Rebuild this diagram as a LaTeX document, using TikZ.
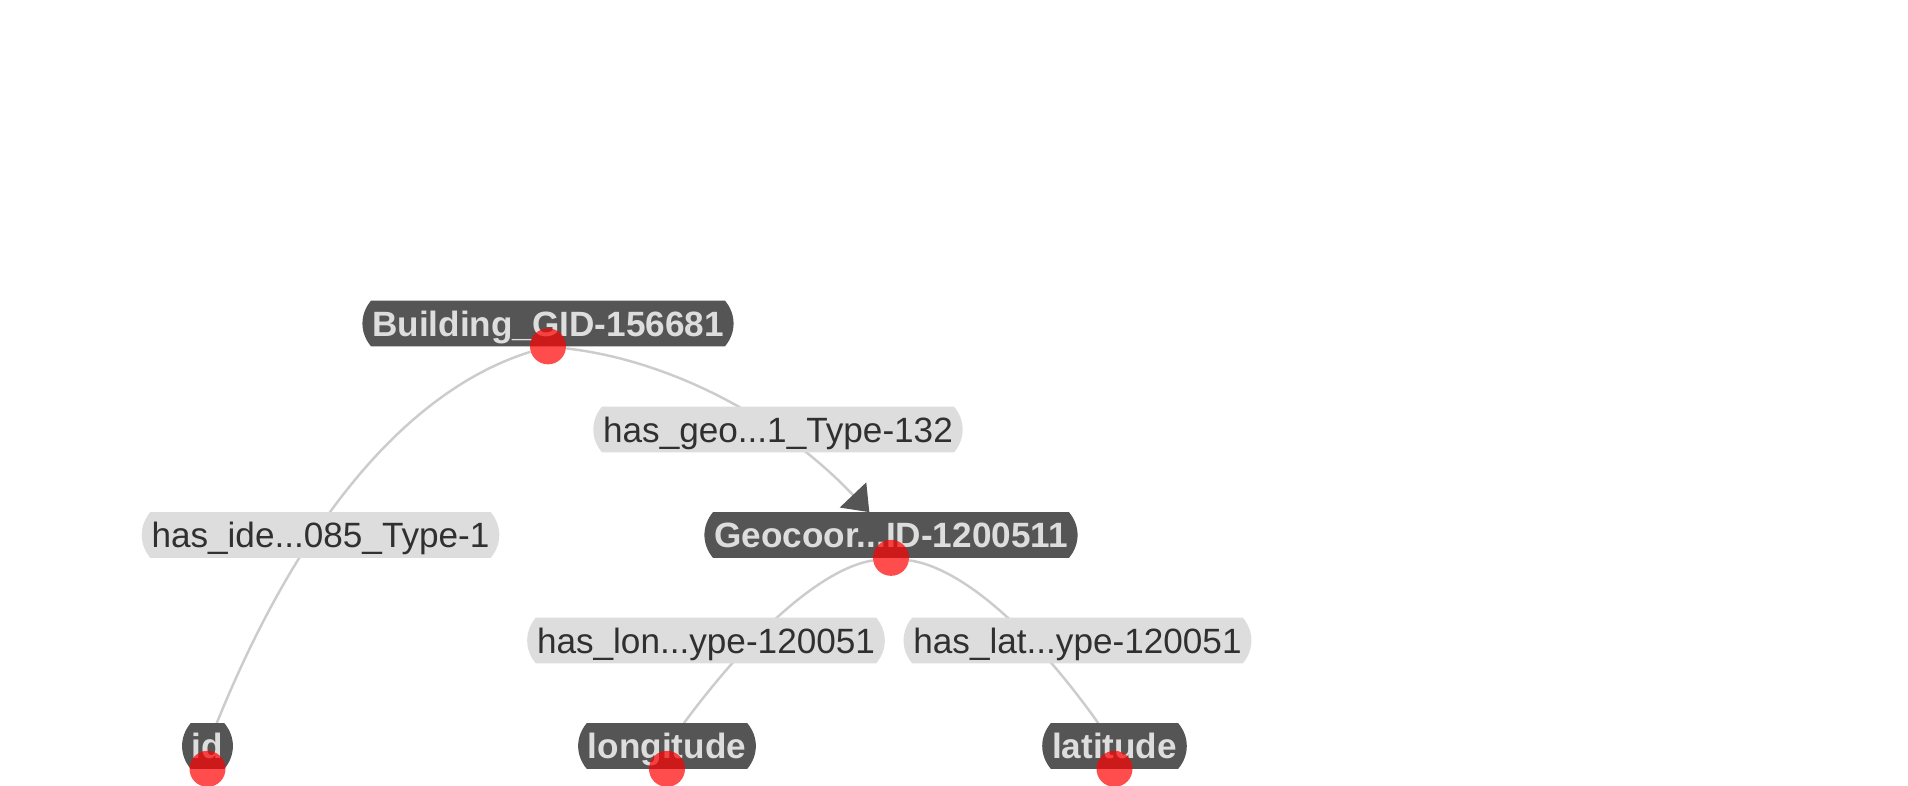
\documentclass[tikz,border=0pt]{standalone}
\usepackage{fontspec}
\setmainfont{Liberation Sans}
\usepackage{xcolor}
\usetikzlibrary{arrows.meta, backgrounds}

\definecolor{entityfill}{HTML}{555555}
\definecolor{entitytext}{HTML}{DDDDDD}
\definecolor{relfill}{HTML}{DDDDDD}
\definecolor{reltext}{HTML}{303030}
\definecolor{linkgrey}{HTML}{CCCCCC}

\begin{document}
\begin{tikzpicture}[
    x=0.02cm, y=-0.02cm,
    entity/.style={rectangle, text=entitytext, font=\fontsize{20}{24}\selectfont\bfseries, text height=14.3pt, text depth=0pt, inner xsep=0.5pt, inner ysep=5.65pt},
    relation/.style={entity, text=reltext, font=\fontsize{20}{24}\selectfont},
    reddot/.style={circle, fill=red, fill opacity=0.7, minimum size=20.5pt, inner sep=0pt},
    link/.style={draw=linkgrey, line width=1.4pt},
    arrowlink/.style={link, -{Triangle[length=13.5pt, width=20.5pt, color=entityfill]}}
]
\useasboundingbox (0,0) rectangle (1908,786);

% Nodes
\node (building) [entity] at (548,323.5) {Building\_GID-156681};
\node (geo) [entity] at (891,535) {Geocoor...ID-1200511};
\node (idnode) [entity] at (207.5,746) {id};
\node (longitude) [entity] at (667,746) {longitude};
\node (latitude) [entity] at (1114.5,746) {latitude};

% Edge labels
\node (hasgeo) [relation] at (778,429.5) {has\_geo...1\_Type-132};
\node (hasid) [relation] at (320.5,535) {has\_ide...085\_Type-1};
\node (haslon) [relation] at (706,640.5) {has\_lon...ype-120051};
\node (haslat) [relation] at (1077.5,640.5) {has\_lat...ype-120051};

% Dots
\node (bdot) [reddot] at (building.south) {};
\node (gdot) [reddot] at (geo.south) {};
\node (iddot) [reddot] at (idnode.south) {};
\node (londot) [reddot] at (longitude.south) {};
\node (latdot) [reddot] at (latitude.south) {};

\begin{scope}[on background layer]
% Links
\draw[link] (bdot) .. controls (411,389) and (301,515) .. (idnode);
\draw[arrowlink] (bdot) .. controls (668,360) and (778,416) .. (geo);
\draw[link] (gdot) .. controls (828,567) and (758,623) .. (longitude);
\draw[link] (gdot) .. controls (958,567) and (1027,623) .. (latitude);
% Label backgrounds with bulged ends
\foreach \n/\c in {building/entityfill, geo/entityfill, idnode/entityfill, longitude/entityfill, latitude/entityfill,
                   hasgeo/relfill, hasid/relfill, haslon/relfill, haslat/relfill}
  \fill[\c] (\n.north west) to[bend right=40] (\n.south west) -- (\n.south east) to[bend right=40] (\n.north east) -- cycle;
\end{scope}

\end{tikzpicture}
\end{document}
